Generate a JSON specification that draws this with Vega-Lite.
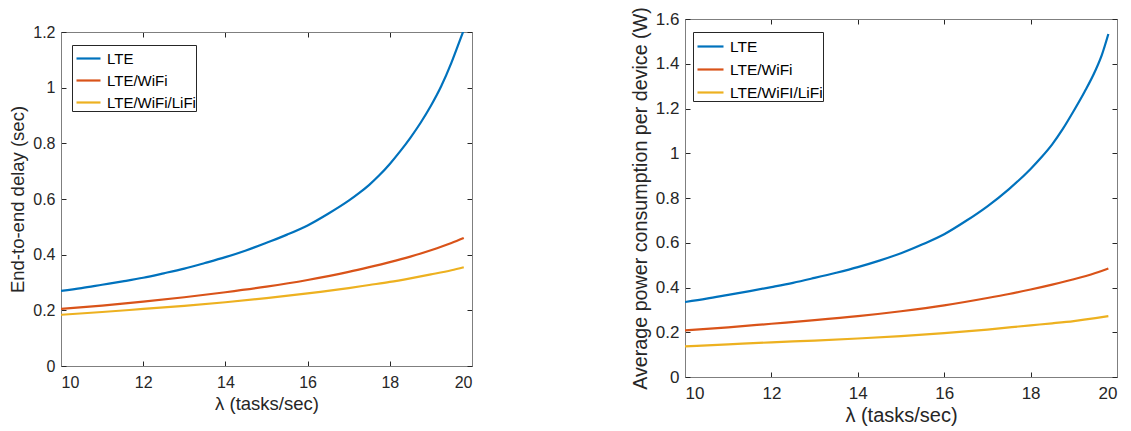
{
  "$schema": "https://vega.github.io/schema/vega-lite/v6.json",
  "padding": {"left": 8, "top": 3, "right": 4, "bottom": 5},
  "spacing": 156,
  "background": "white",
  "config": {
    "font": "Liberation Sans",
    "view": {"stroke": "#7f7f7f", "strokeWidth": 1},
    "axis": {
      "labelFont": "Liberation Sans",
      "labelFontSize": 16,
      "labelColor": "#262626",
      "titleFont": "Liberation Sans",
      "titleFontSize": 18.5,
      "titleFontWeight": "normal",
      "titleColor": "#262626",
      "tickSize": -5,
      "tickColor": "#262626",
      "domainColor": "#7f7f7f",
      "grid": false,
      "labelPadding": 11,
      "titlePadding": 5
    },
    "axisX": {"labelPadding": 13, "titlePadding": 4},
    "legend": {
      "labelFont": "Liberation Sans",
      "labelFontSize": 15,
      "labelColor": "#000000",
      "labelExpr": "datum.label + ' '",
      "symbolType": "stroke",
      "symbolSize": 576,
      "symbolStrokeWidth": 2.2,
      "symbolOffset": 3,
      "labelOffset": 5,
      "rowPadding": -6,
      "padding": 0,
      "strokeColor": "#262626",
      "fillColor": "white",
      "title": null
    },
    "line": {"strokeWidth": 2.2, "interpolate": "monotone"}
  },
  "datasets": {
    "delay": [
      {"lambda": 10, "value": 0.270, "series": "LTE"},
      {"lambda": 10.5, "value": 0.280, "series": "LTE"},
      {"lambda": 11, "value": 0.292, "series": "LTE"},
      {"lambda": 11.5, "value": 0.304, "series": "LTE"},
      {"lambda": 12, "value": 0.317, "series": "LTE"},
      {"lambda": 12.5, "value": 0.333, "series": "LTE"},
      {"lambda": 13, "value": 0.350, "series": "LTE"},
      {"lambda": 13.5, "value": 0.370, "series": "LTE"},
      {"lambda": 14, "value": 0.391, "series": "LTE"},
      {"lambda": 14.5, "value": 0.415, "series": "LTE"},
      {"lambda": 15, "value": 0.443, "series": "LTE"},
      {"lambda": 15.5, "value": 0.472, "series": "LTE"},
      {"lambda": 16, "value": 0.505, "series": "LTE"},
      {"lambda": 16.5, "value": 0.547, "series": "LTE"},
      {"lambda": 17, "value": 0.594, "series": "LTE"},
      {"lambda": 17.25, "value": 0.621, "series": "LTE"},
      {"lambda": 17.5, "value": 0.651, "series": "LTE"},
      {"lambda": 17.75, "value": 0.686, "series": "LTE"},
      {"lambda": 18, "value": 0.726, "series": "LTE"},
      {"lambda": 18.25, "value": 0.771, "series": "LTE"},
      {"lambda": 18.5, "value": 0.820, "series": "LTE"},
      {"lambda": 18.75, "value": 0.874, "series": "LTE"},
      {"lambda": 19, "value": 0.935, "series": "LTE"},
      {"lambda": 19.25, "value": 1.005, "series": "LTE"},
      {"lambda": 19.5, "value": 1.090, "series": "LTE"},
      {"lambda": 19.68, "value": 1.160, "series": "LTE"},
      {"lambda": 19.82, "value": 1.215, "series": "LTE"},
      {"lambda": 10, "value": 0.205, "series": "LTE/WiFi"},
      {"lambda": 11, "value": 0.217, "series": "LTE/WiFi"},
      {"lambda": 12, "value": 0.231, "series": "LTE/WiFi"},
      {"lambda": 13, "value": 0.247, "series": "LTE/WiFi"},
      {"lambda": 14, "value": 0.265, "series": "LTE/WiFi"},
      {"lambda": 15, "value": 0.285, "series": "LTE/WiFi"},
      {"lambda": 16, "value": 0.309, "series": "LTE/WiFi"},
      {"lambda": 17, "value": 0.338, "series": "LTE/WiFi"},
      {"lambda": 17.5, "value": 0.355, "series": "LTE/WiFi"},
      {"lambda": 18, "value": 0.373, "series": "LTE/WiFi"},
      {"lambda": 18.5, "value": 0.393, "series": "LTE/WiFi"},
      {"lambda": 19, "value": 0.416, "series": "LTE/WiFi"},
      {"lambda": 19.5, "value": 0.442, "series": "LTE/WiFi"},
      {"lambda": 19.8, "value": 0.460, "series": "LTE/WiFi"},
      {"lambda": 10, "value": 0.184, "series": "LTE/WiFi/LiFi"},
      {"lambda": 11, "value": 0.194, "series": "LTE/WiFi/LiFi"},
      {"lambda": 12, "value": 0.205, "series": "LTE/WiFi/LiFi"},
      {"lambda": 13, "value": 0.216, "series": "LTE/WiFi/LiFi"},
      {"lambda": 14, "value": 0.229, "series": "LTE/WiFi/LiFi"},
      {"lambda": 15, "value": 0.244, "series": "LTE/WiFi/LiFi"},
      {"lambda": 16, "value": 0.261, "series": "LTE/WiFi/LiFi"},
      {"lambda": 17, "value": 0.280, "series": "LTE/WiFi/LiFi"},
      {"lambda": 17.5, "value": 0.291, "series": "LTE/WiFi/LiFi"},
      {"lambda": 18, "value": 0.302, "series": "LTE/WiFi/LiFi"},
      {"lambda": 18.5, "value": 0.315, "series": "LTE/WiFi/LiFi"},
      {"lambda": 19, "value": 0.329, "series": "LTE/WiFi/LiFi"},
      {"lambda": 19.5, "value": 0.344, "series": "LTE/WiFi/LiFi"},
      {"lambda": 19.8, "value": 0.355, "series": "LTE/WiFi/LiFi"}
    ],
    "power": [
      {"lambda": 10, "value": 0.335, "series": "LTE"},
      {"lambda": 10.5, "value": 0.350, "series": "LTE"},
      {"lambda": 11, "value": 0.367, "series": "LTE"},
      {"lambda": 11.5, "value": 0.384, "series": "LTE"},
      {"lambda": 12, "value": 0.402, "series": "LTE"},
      {"lambda": 12.5, "value": 0.421, "series": "LTE"},
      {"lambda": 13, "value": 0.443, "series": "LTE"},
      {"lambda": 13.5, "value": 0.466, "series": "LTE"},
      {"lambda": 14, "value": 0.491, "series": "LTE"},
      {"lambda": 14.5, "value": 0.520, "series": "LTE"},
      {"lambda": 15, "value": 0.553, "series": "LTE"},
      {"lambda": 15.5, "value": 0.593, "series": "LTE"},
      {"lambda": 16, "value": 0.638, "series": "LTE"},
      {"lambda": 16.5, "value": 0.697, "series": "LTE"},
      {"lambda": 17, "value": 0.763, "series": "LTE"},
      {"lambda": 17.5, "value": 0.840, "series": "LTE"},
      {"lambda": 18, "value": 0.930, "series": "LTE"},
      {"lambda": 18.25, "value": 0.982, "series": "LTE"},
      {"lambda": 18.5, "value": 1.040, "series": "LTE"},
      {"lambda": 18.75, "value": 1.110, "series": "LTE"},
      {"lambda": 19, "value": 1.190, "series": "LTE"},
      {"lambda": 19.25, "value": 1.275, "series": "LTE"},
      {"lambda": 19.5, "value": 1.370, "series": "LTE"},
      {"lambda": 19.65, "value": 1.440, "series": "LTE"},
      {"lambda": 19.8, "value": 1.533, "series": "LTE"},
      {"lambda": 10, "value": 0.208, "series": "LTE/WiFi"},
      {"lambda": 11, "value": 0.222, "series": "LTE/WiFi"},
      {"lambda": 12, "value": 0.238, "series": "LTE/WiFi"},
      {"lambda": 13, "value": 0.254, "series": "LTE/WiFi"},
      {"lambda": 14, "value": 0.272, "series": "LTE/WiFi"},
      {"lambda": 15, "value": 0.294, "series": "LTE/WiFi"},
      {"lambda": 16, "value": 0.320, "series": "LTE/WiFi"},
      {"lambda": 17, "value": 0.353, "series": "LTE/WiFi"},
      {"lambda": 17.5, "value": 0.371, "series": "LTE/WiFi"},
      {"lambda": 18, "value": 0.391, "series": "LTE/WiFi"},
      {"lambda": 18.5, "value": 0.413, "series": "LTE/WiFi"},
      {"lambda": 19, "value": 0.437, "series": "LTE/WiFi"},
      {"lambda": 19.5, "value": 0.465, "series": "LTE/WiFi"},
      {"lambda": 19.8, "value": 0.485, "series": "LTE/WiFi"},
      {"lambda": 10, "value": 0.137, "series": "LTE/WiFI/LiFi"},
      {"lambda": 11, "value": 0.146, "series": "LTE/WiFI/LiFi"},
      {"lambda": 12, "value": 0.155, "series": "LTE/WiFI/LiFi"},
      {"lambda": 13, "value": 0.163, "series": "LTE/WiFI/LiFi"},
      {"lambda": 14, "value": 0.172, "series": "LTE/WiFI/LiFi"},
      {"lambda": 15, "value": 0.183, "series": "LTE/WiFI/LiFi"},
      {"lambda": 16, "value": 0.196, "series": "LTE/WiFI/LiFi"},
      {"lambda": 17, "value": 0.212, "series": "LTE/WiFI/LiFi"},
      {"lambda": 18, "value": 0.231, "series": "LTE/WiFI/LiFi"},
      {"lambda": 18.5, "value": 0.240, "series": "LTE/WiFI/LiFi"},
      {"lambda": 19, "value": 0.250, "series": "LTE/WiFI/LiFi"},
      {"lambda": 19.5, "value": 0.263, "series": "LTE/WiFI/LiFi"},
      {"lambda": 19.8, "value": 0.272, "series": "LTE/WiFI/LiFi"}
    ]
  },
  "hconcat": [
    {
      "spacing": -2,
      "resolve": {"scale": {"color": "independent"}, "legend": {"color": "independent"}},
      "vconcat": [
        {
          "width": 411,
          "height": 1,
          "data": {"values": [{}]},
          "mark": {"type": "text", "text": ""},
          "encoding": {},
          "view": {"stroke": null}
        },
        {
          "width": 411,
          "height": 334,
          "data": {"name": "delay"},
          "layer": [
            {
              "mark": {"type": "line", "clip": true},
              "encoding": {
                "x": {"field": "lambda", "type": "quantitative", "scale": {"domain": [10, 20]}, "axis": {"orient": "bottom", "title": "λ (tasks/sec)", "values": [10, 12, 14, 16, 18, 20], "format": "d"}},
                "y": {"field": "value", "type": "quantitative", "scale": {"domain": [0, 1.2]}, "axis": {"orient": "left", "title": "End-to-end delay (sec)", "values": [0, 0.2, 0.4, 0.6, 0.8, 1, 1.2], "format": "~g"}},
                "color": {"field": "series", "type": "nominal", "sort": ["LTE", "LTE/WiFi", "LTE/WiFi/LiFi"], "scale": {"domain": ["LTE", "LTE/WiFi", "LTE/WiFi/LiFi"], "range": ["#0072BD", "#D95319", "#EDB120"]}, "legend": {"orient": "none", "legendX": 11, "legendY": 13}}
              }
            },
            {
              "mark": {"type": "line", "opacity": 0},
              "encoding": {
                "x": {"field": "lambda", "type": "quantitative", "axis": {"orient": "top", "title": null, "labels": false, "values": [10, 12, 14, 16, 18, 20]}},
                "y": {"field": "value", "type": "quantitative", "axis": {"orient": "right", "title": null, "labels": false, "values": [0, 0.2, 0.4, 0.6, 0.8, 1, 1.2]}},
                "detail": {"field": "series"}
              }
            }
          ],
          "resolve": {"axis": {"x": "independent", "y": "independent"}}
        }
      ]
    },
    {
      "width": 432,
      "height": 358,
      "data": {"name": "power"},
      "layer": [
        {
          "mark": {"type": "line", "clip": true},
          "encoding": {
            "x": {"field": "lambda", "type": "quantitative", "scale": {"domain": [10, 20]}, "axis": {"orient": "bottom", "title": "λ (tasks/sec)", "values": [10, 12, 14, 16, 18, 20], "format": "d", "labelFontSize": 17, "titleFontSize": 20}},
            "y": {"field": "value", "type": "quantitative", "scale": {"domain": [0, 1.6]}, "axis": {"orient": "left", "title": "Average power consumption  per device (W)", "values": [0, 0.2, 0.4, 0.6, 0.8, 1, 1.2, 1.4, 1.6], "format": "~g", "labelFontSize": 17, "titleFontSize": 19.7}},
            "color": {"field": "series", "type": "nominal", "sort": ["LTE", "LTE/WiFi", "LTE/WiFI/LiFi"], "scale": {"domain": ["LTE", "LTE/WiFi", "LTE/WiFI/LiFi"], "range": ["#0072BD", "#D95319", "#EDB120"]}, "legend": {"orient": "none", "legendX": 8, "legendY": 13, "labelFontSize": 15.5, "symbolSize": 676, "rowPadding": -7}}
          }
        },
        {
          "mark": {"type": "line", "opacity": 0},
          "encoding": {
            "x": {"field": "lambda", "type": "quantitative", "axis": {"orient": "top", "title": null, "labels": false, "values": [10, 12, 14, 16, 18, 20]}},
            "y": {"field": "value", "type": "quantitative", "axis": {"orient": "right", "title": null, "labels": false, "values": [0, 0.2, 0.4, 0.6, 0.8, 1, 1.2, 1.4, 1.6]}},
            "detail": {"field": "series"}
          }
        }
      ],
      "resolve": {"axis": {"x": "independent", "y": "independent"}}
    }
  ],
  "resolve": {"scale": {"color": "independent"}}
}
